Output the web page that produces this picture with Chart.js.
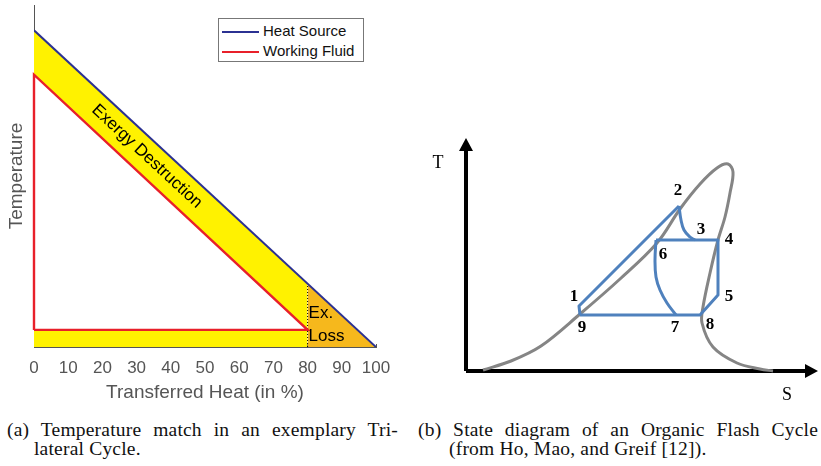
<!DOCTYPE html>
<html>
<head>
<meta charset="utf-8">
<script src="https://cdn.jsdelivr.net/npm/chart.js@4.4.1/dist/chart.umd.min.js"></script>
<style>
  body { margin: 0; width: 821px; height: 466px; background: #fff; position: relative; overflow: hidden; }
  #tlc { position: absolute; left: 0; top: 0; }
  #ofc { position: absolute; left: 420px; top: 130px; }
  .legend {
    position: absolute; left: 218px; top: 18px; width: 146px; height: 44px;
    box-sizing: border-box; border: 1px solid #777; background: #fff;
    font: 15px "Liberation Sans", Arial, sans-serif; color: #111;
  }
  .legend div { position: absolute; left: 44px; line-height: 18px; }
  .legend span { position: absolute; left: 3px; width: 37px; height: 2px; }
  .cap {
    position: absolute; font: 19.5px/19px "Liberation Serif", "Times New Roman", serif;
    color: #111; letter-spacing: 0.2px;
  }
  .cap .l1 { text-align: justify; text-align-last: justify; }
</style>
</head>
<body>
<canvas id="tlc" width="400" height="410"></canvas>
<canvas id="ofc" width="401" height="280"></canvas>

<div class="legend">
  <span style="top:12px; background:#2b3192"></span><div style="top:3px">Heat Source</div>
  <span style="top:32px; background:#e8202a"></span><div style="top:23px">Working Fluid</div>
</div>

<div class="cap" style="left:7px; top:420px; width:391px">
  <div class="l1">(a) Temperature match in an exemplary Tri-</div>
  <div style="padding-left:27px">lateral Cycle.</div>
</div>
<div class="cap" style="left:418px; top:420px; width:400px">
  <div class="l1">(b) State diagram of an Organic Flash Cycle</div>
  <div style="padding-left:31px">(from Ho, Mao, and Greif [12]).</div>
</div>

<script>
// ---- (a) trilateral cycle: temperature over transferred heat ----
const heatTicks = [0, 10, 20, 30, 40, 50, 60, 70, 80, 90, 100];
const sourceHeat = [0, 80, 100];      // % of heat transferred
const sourceTemp = [100, 20, 0];
const fluidHeat = [0, 0, 80, 0];
const fluidTemp = [5.4, 86, 5.4, 5.4];
const pinchHeat = 80;

// ---- (b) organic flash cycle, T-s diagram ----
const domeS = [1.7, 4.5, 7.5, 11.4, 15.4, 19.1, 21.4, 23.4, 25.1, 26.2, 26.7, 26.4, 25.9, 25.2, 24.4, 23.7, 23.6, 24.7, 27.1, 29.4, 30.7];
const domeT = [0.1, 1.0, 2.5, 5.7, 9.2, 12.8, 16.2, 18.7, 20.3, 20.7, 19.9, 17.8, 15.4, 13.1, 9.8, 6.4, 4.8, 2.4, 0.8, 0.2, 0];
// state points 1..9
const stateS = [11.3, 21.3, 22.9, 25.2, 25.2, 19.0, 21.0, 23.4, 11.4];
const stateT = [6.5, 16.5, 13.1, 13.1, 7.6, 13.1, 5.6, 5.6, 5.6];
// throttling 2 -> 3 and flash separation 6 -> 7
const curve23S = [21.5, 21.8, 22.4];
const curve23T = [15.1, 14.1, 13.4];
const curve67S = [18.9, 19.0, 19.4, 20.1];
const curve67T = [11.1, 9.4, 8.1, 6.8];

const pts = (xs, ys) => xs.map((x, i) => ({ x, y: ys[i] }));
const state = n => ({ x: stateS[n - 1], y: stateT[n - 1] });

const yellow = '#fff200';
const orange = '#f6b81c';
const navy = '#2b3192';
const red = '#e8202a';
const grey = '#555';

const regionLabels = {
  id: 'regionLabels',
  afterDatasetsDraw(chart) {
    const { ctx, scales: { x, y } } = chart;
    ctx.save();
    ctx.fillStyle = '#000';
    ctx.font = '17px "Liberation Sans", Arial, sans-serif';
    // text runs along the heat source line
    const ang = Math.atan2(y.getPixelForValue(sourceTemp[2]) - y.getPixelForValue(sourceTemp[0]),
                           x.getPixelForValue(sourceHeat[2]) - x.getPixelForValue(sourceHeat[0]));
    ctx.translate(x.getPixelForValue(33), y.getPixelForValue(60.2));
    ctx.rotate(ang);
    ctx.textAlign = 'center';
    ctx.textBaseline = 'middle';
    ctx.fillText('Exergy Destruction', 0, 0);
    ctx.setTransform(1, 0, 0, 1, 0, 0);
    ctx.textAlign = 'left';
    const lx = x.getPixelForValue(pinchHeat) + 1;
    ctx.fillText('Ex.', lx, y.getPixelForValue(10.7));
    ctx.fillText('Loss', lx, y.getPixelForValue(3.5));
    ctx.restore();
  }
};

new Chart(document.getElementById('tlc'), {
  type: 'line',
  data: {
    datasets: [
      { label: 'Heat Source', data: pts([sourceHeat[0], sourceHeat[2]], [sourceTemp[0], sourceTemp[2]]),
        borderColor: navy, borderWidth: 2, pointRadius: 0, fill: false, order: 0 },
      { label: 'Working Fluid', data: pts(fluidHeat, fluidTemp), clip: false,
        borderColor: red, borderWidth: 2.4, pointRadius: 0, fill: false, order: 1 },
      { label: 'pinch', data: pts([pinchHeat, pinchHeat], [0, sourceTemp[1]]),
        borderColor: '#000', borderWidth: 1, borderDash: [1, 2], pointRadius: 0, fill: false, order: 2 },
      { label: 'inner', data: pts(fluidHeat.slice(1, 3), fluidTemp.slice(1, 3)),
        borderWidth: 0, pointRadius: 0, backgroundColor: '#fff', fill: { value: fluidTemp[0] }, order: 3 },
      { label: 'loss', data: pts(sourceHeat.slice(1), sourceTemp.slice(1)),
        borderWidth: 0, pointRadius: 0, backgroundColor: orange, fill: 'origin', order: 4 },
      { label: 'destruction', data: pts(sourceHeat.slice(0, 2), sourceTemp.slice(0, 2)),
        borderWidth: 0, pointRadius: 0, backgroundColor: yellow, fill: 'origin', order: 5 }
    ]
  },
  options: {
    responsive: false,
    animation: false,
    layout: { padding: { top: 5, right: 24, left: 0, bottom: 0 } },
    scales: {
      x: {
        type: 'linear', min: 0, max: 100,
        afterBuildTicks: s => { s.ticks = heatTicks.map(v => ({ value: v })); },
        afterFit: s => { s.height = 63; s.paddingLeft = 0; s.paddingRight = 0; },
        grid: { drawOnChartArea: false, tickLength: -3, color: grey },
        border: { color: grey, width: 1 },
        ticks: { color: grey, padding: 14, maxRotation: 0, minRotation: 0, autoSkip: false,
                 font: { family: '"Liberation Sans", Arial', size: 17 } },
        title: { display: true, text: 'Transferred Heat (in %)', color: grey,
                 padding: { top: 0, bottom: 6 }, font: { family: '"Liberation Sans", Arial', size: 19 } }
      },
      y: {
        min: 0, max: 108,
        afterFit: s => { s.width = 34; },
        grid: { display: false },
        border: { color: grey, width: 1 },
        ticks: { display: false },
        title: { display: true, text: 'Temperature', color: grey,
                 padding: { top: 5, bottom: 0 }, font: { family: '"Liberation Sans", Arial', size: 19 } }
      }
    },
    plugins: { legend: { display: false }, tooltip: { enabled: false } }
  },
  plugins: [regionLabels]
});

// arrow heads on the T and S axes, state numbers and axis letters
const tsDecor = {
  id: 'tsDecor',
  afterDatasetsDraw(chart) {
    const { ctx, scales: { x, y } } = chart;
    const ox = x.getPixelForValue(0), oy = y.getPixelForValue(0);
    const tTop = y.getPixelForValue(23.3), sEnd = x.getPixelForValue(35.2);
    ctx.save();
    ctx.fillStyle = '#000';
    ctx.beginPath();
    ctx.moveTo(ox, tTop); ctx.lineTo(ox - 7, tTop + 13); ctx.lineTo(ox + 7, tTop + 13); ctx.closePath();
    ctx.moveTo(sEnd, oy); ctx.lineTo(sEnd - 13, oy - 7); ctx.lineTo(sEnd - 13, oy + 7); ctx.closePath();
    ctx.fill();

    ctx.textAlign = 'center';
    ctx.textBaseline = 'middle';
    ctx.font = '18px "Liberation Serif", serif';
    ctx.fillText('T', ox - 28, y.getPixelForValue(20.8));
    ctx.fillText('S', x.getPixelForValue(32.1), oy + 24);

    const offs = [[-5, -9], [-1, -15], [6, -10], [11, 0], [11, 2], [7, 15], [-1, 13], [10, 10], [2, 13]];
    ctx.font = 'bold 17px "Liberation Serif", serif';
    offs.forEach(([dx, dy], i) => {
      ctx.fillText(String(i + 1), x.getPixelForValue(stateS[i]) + dx, y.getPixelForValue(stateT[i]) + dy);
    });
    ctx.restore();
  }
};

const blue = '#4f81bd';
const cyc = (data, tension) => ({ data, borderColor: blue, borderWidth: 3, pointRadius: 0,
  tension, showLine: true, fill: false, clip: false, borderJoinStyle: 'round' });

new Chart(document.getElementById('ofc'), {
  type: 'scatter',
  data: {
    datasets: [
      cyc([state(9), state(1), state(2)], 0),
      cyc([state(2), ...pts(curve23S, curve23T), state(3)], 0.4),
      cyc([state(6), state(4), state(5), state(8), state(7), state(9)], 0),
      cyc([state(6), ...pts(curve67S, curve67T), state(7)], 0.4),
      { data: pts(domeS, domeT), borderColor: '#858585', borderWidth: 3, pointRadius: 0,
        tension: 0.35, showLine: true, clip: false },
      { data: [{ x: 0, y: 0 }, { x: 0, y: 22.4 }], borderColor: '#000', borderWidth: 4,
        pointRadius: 0, showLine: true, clip: false },
      { data: [{ x: 0, y: 0 }, { x: 34.3, y: 0 }], borderColor: '#000', borderWidth: 4,
        pointRadius: 0, showLine: true, clip: false }
    ]
  },
  options: {
    responsive: false,
    animation: false,
    layout: { padding: { left: 46, right: 5, top: 7, bottom: 39 } },
    scales: {
      x: { display: false, min: 0, max: 35 },
      y: { display: false, min: 0, max: 23.4 }
    },
    plugins: { legend: { display: false }, tooltip: { enabled: false } }
  },
  plugins: [tsDecor]
});
</script>
</body>
</html>
